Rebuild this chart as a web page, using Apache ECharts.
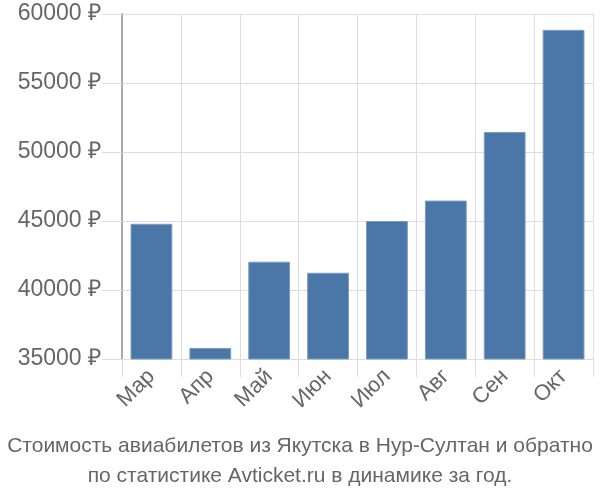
<!DOCTYPE html>
<html>
<head>
<meta charset="utf-8">
<script src="https://cdn.jsdelivr.net/npm/echarts@6/dist/echarts.min.js"></script>
<style>
  html, body { margin: 0; padding: 0; background: #fff; }
  #chart { width: 600px; height: 500px; }
</style>
</head>
<body>
<div id="chart"></div>
<script>
// месяцы и цены
const months = ['Мар', 'Апр', 'Май', 'Июн', 'Июл', 'Авг', 'Сен', 'Окт'];
const prices = [44800, 35800, 42050, 41250, 45000, 46480, 51450, 58850];
const yTicks = [35000, 40000, 45000, 50000, 55000, 60000];
const titleLines = [
    'Стоимость авиабилетов из Якутска в Нур-Султан и обратно',
    'по статистике Avticket.ru в динамике за год.'
];

const chart = echarts.init(document.getElementById('chart'));

chart.setOption({
    animation: false,
    title: {
        text: titleLines.join('\n'),
        left: 'center',
        bottom: 4,
        textStyle: {
            fontFamily: 'Liberation Sans, sans-serif',
            fontSize: 21,
            fontWeight: 'normal',
            color: '#666',
            lineHeight: 30
        }
    },
    grid: {
        left: 122,
        right: 7,
        top: 14,
        bottom: 141
    },
    xAxis: {
        type: 'category',
        data: months,
        axisLine: { show: true, lineStyle: { color: '#ddd', width: 1 } },
        axisTick: { show: true, length: 18, lineStyle: { color: '#ddd' } },
        splitLine: { show: true, lineStyle: { color: '#ddd' } },
        axisLabel: {
            rotate: 45,
            margin: 14,
            interval: 0,
            color: '#666',
            fontSize: 22,
            fontFamily: 'Liberation Sans, sans-serif'
        }
    },
    yAxis: {
        type: 'value',
        min: yTicks[0],
        max: yTicks[yTicks.length - 1],
        interval: 5000,
        axisLine: { show: true, lineStyle: { color: '#aaa', width: 2 } },
        axisTick: { show: true, length: 20, lineStyle: { color: '#ddd' } },
        splitLine: { show: true, lineStyle: { color: '#ddd' } },
        axisLabel: {
            margin: 21,
            color: '#666',
            fontSize: 23,
            fontFamily: 'Liberation Sans, sans-serif',
            formatter: (v) => v + ' ₽'
        }
    },
    series: [{
        type: 'bar',
        data: prices,
        barCategoryGap: '29%',
        itemStyle: {
            color: '#4b77a8',
            borderColor: '#7c9cc2',
            borderWidth: 1
        }
    }]
});
</script>
</body>
</html>
